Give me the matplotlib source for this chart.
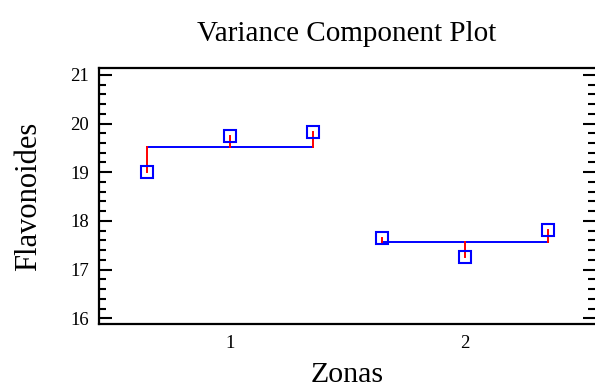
import matplotlib
matplotlib.use("Agg")
import matplotlib.pyplot as plt
import numpy as np
from matplotlib.ticker import MultipleLocator

groups = [1, 2]
group_labels = ["1", "2"]
values_g1 = [19.0, 19.75, 19.82]
values_g2 = [17.65, 17.25, 17.82]
offsets = [-0.353, 0.0, 0.353]

plt.rcParams['font.family'] = ['Liberation Serif', 'DejaVu Serif']

fig = plt.figure(figsize=(5.95, 3.9), dpi=100)
ax = fig.add_axes([0.1664, 0.169, 0.8336, 0.657])

for g, vals in zip(groups, [values_g1, values_g2]):
    xs = [g + o for o in offsets]
    m = np.mean(vals)
    ax.plot([xs[0], xs[-1]], [m, m], color='blue', lw=1.4, zorder=2)
    for x, v in zip(xs, vals):
        ax.plot([x, x], [m, v], color='red', lw=1.4, zorder=3)
    ax.plot(xs, vals, linestyle='none', marker='s', markersize=8,
            markerfacecolor='none', markeredgecolor='blue', markeredgewidth=1.5, zorder=4)

ax.set_xlim(0.443, 2.553)
ax.set_ylim(15.88, 21.144)
ax.set_xticks(groups)
ax.set_xticklabels(group_labels)
ax.yaxis.set_major_locator(MultipleLocator(1))
ax.yaxis.set_minor_locator(MultipleLocator(0.2))
ax.tick_params(axis='y', which='major', direction='in', length=9, width=1.5, left=True, right=True, labelsize=13.5, pad=7)
ax.tick_params(axis='y', which='minor', direction='in', length=5, width=1.5, left=True, right=True)
ax.tick_params(axis='x', which='both', length=0, labelsize=13.5, pad=8)
for s in ['left', 'top', 'bottom']:
    ax.spines[s].set_linewidth(1.6)
ax.spines['right'].set_visible(False)

ax.set_title("Variance Component Plot", fontsize=21, pad=19)
ax.set_ylabel("Flavonoides", fontsize=22, labelpad=20)
ax.set_xlabel("Zonas", fontsize=21.5, labelpad=7)

fig.savefig("out.png", dpi=100)
